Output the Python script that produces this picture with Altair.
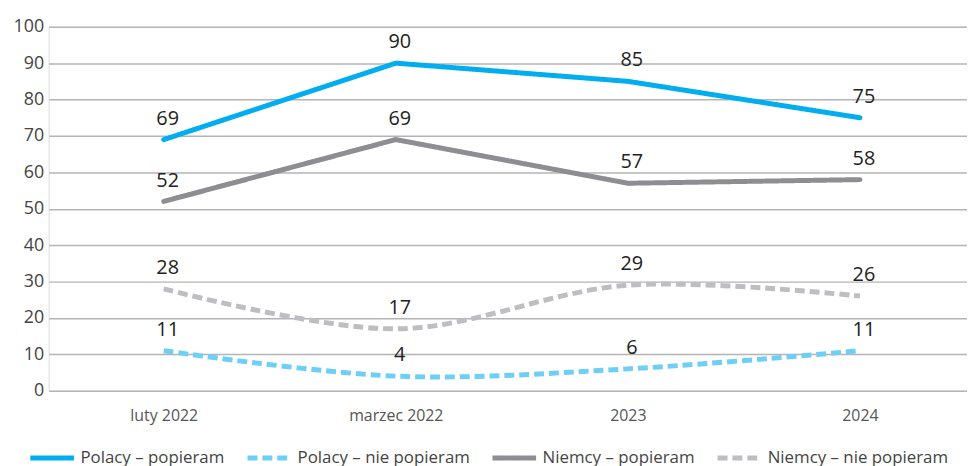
import altair as alt
import pandas as pd

categories = ["luty 2022", "marzec 2022", "2023", "2024"]
series_names = ["Polacy – popieram", "Polacy – nie popieram", "Niemcy – popieram", "Niemcy – nie popieram"]
polacy_popieram = [69, 90, 85, 75]
polacy_nie_popieram = [11, 4, 6, 11]
niemcy_popieram = [52, 69, 57, 58]
niemcy_nie_popieram = [28, 17, 29, 26]
colors = ["#00AEEF", "#6DCFF6", "#8E8E92", "#BEBEC2"]
dashes = [[1, 0], [10, 5], [1, 0], [10, 5]]

rows = []
for name, vals in zip(series_names, [polacy_popieram, polacy_nie_popieram, niemcy_popieram, niemcy_nie_popieram]):
    for i, (c, v) in enumerate(zip(categories, vals)):
        rows.append({"kat": c, "seria": name, "wartosc": v, "order": i,
                     "dashed": "nie" in name})
df = pd.DataFrame(rows)

FONT = "Open Sans"

x_enc = alt.X("kat:N", sort=categories, title=None,
              scale=alt.Scale(type="point", padding=0.4786, align=0.518),
              axis=alt.Axis(labelAngle=0, ticks=False, domain=False, grid=False,
                            labelPadding=17, labelFontSize=16, labelColor="#555555",
                            labelFont=FONT))
y_enc = alt.Y("wartosc:Q", title=None,
              scale=alt.Scale(domain=[0, 100], nice=False),
              axis=alt.Axis(values=list(range(0, 101, 10)), ticks=False, domain=False,
                            grid=True, gridColor="#B4B4B4", gridWidth=1.5,
                            labelOverlap=False, labelPadding=5, labelFontSize=18,
                            labelColor="#444444", labelFont=FONT))

legend = alt.Legend(title=None, orient="none", legendX=-21, legendY=410,
                    direction="horizontal", columns=4, symbolType="stroke",
                    symbolSize=1936, symbolStrokeWidth=5, labelFontSize=17,
                    labelColor="#444444", labelFont=FONT, labelOffset=4,
                    columnPadding=12, labelLimit=400)

color_enc = alt.Color("seria:N", sort=series_names,
                      scale=alt.Scale(domain=series_names, range=colors), legend=legend)
dash_enc = alt.StrokeDash("seria:N", sort=series_names,
                          scale=alt.Scale(domain=series_names, range=dashes), legend=legend)

base = alt.Chart(df)

solid = base.transform_filter("!datum.dashed").mark_line(
    strokeWidth=5, strokeCap="round", strokeJoin="round", interpolate="linear"
).encode(x=x_enc, y=y_enc, color=color_enc, strokeDash=dash_enc, order="order:Q")

dashed = base.transform_filter("datum.dashed").mark_line(
    strokeWidth=5, strokeCap="butt", strokeJoin="round", interpolate="catmull-rom"
).encode(x=x_enc, y=y_enc, color=color_enc, strokeDash=dash_enc, order="order:Q")

labels = base.mark_text(dx=4, dy=-21, fontSize=20, font=FONT, color="#222222").encode(
    x=x_enc, y=y_enc, text="wartosc:Q")

chart = alt.layer(solid, dashed, labels).properties(
    width=926, height=367,
    autosize=alt.AutoSizeParams(type="none"),
    padding={"left": 41, "top": 17, "right": 0, "bottom": 74},
).configure_view(stroke=None).configure(background="white")

chart.save("out.html", embed_options={"renderer": "svg", "actions": False})
